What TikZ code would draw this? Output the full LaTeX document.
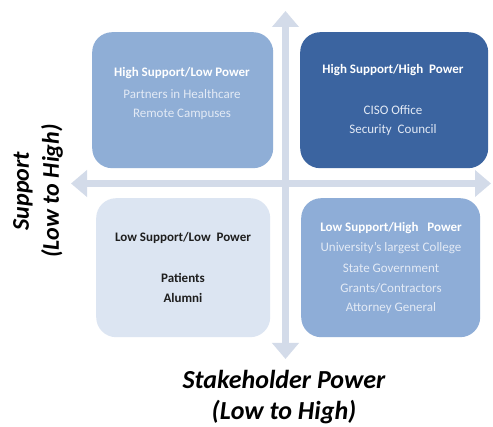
\documentclass[tikz,border=0pt]{standalone}
\usepackage{fontspec}
\setmainfont{Carlito}
\usetikzlibrary{arrows.meta}
\definecolor{axis}{HTML}{D3DBE9}
\definecolor{tlfill}{HTML}{8FAED6}
\definecolor{trfill}{HTML}{3B64A0}
\definecolor{blfill}{HTML}{DCE5F2}
\definecolor{brfill}{HTML}{8EADD7}
\definecolor{lighttext}{HTML}{E3EAF5}
\definecolor{darktext}{HTML}{1E1E1E}
\tikzset{
  quad/.style={rounded corners=20pt, inner sep=0pt, anchor=north west},
  axisarrow/.style={draw=axis, line width=7pt,
    {Triangle[width=26pt,length=16pt]}-{Triangle[width=26pt,length=16pt]}},
  txt/.style={font=\fontsize{13}{15}\selectfont, inner sep=0pt},
  ttl/.style={txt, font=\fontsize{13}{15}\selectfont\bfseries},
  axlabel/.style={font=\bfseries\itshape, align=center, inner sep=0pt}
}
\begin{document}
\begin{tikzpicture}[x=1pt,y=-1pt]
\useasboundingbox[fill=white] (0,0) rectangle (493,427);
% axes
\coordinate (vt) at (285.5,11);
\coordinate (vb) at (285.5,359);
\coordinate (hl) at (71,183.5);
\coordinate (hr) at (491,183.5);
\draw[axisarrow] (vt) -- (vb);
\draw[axisarrow] (hl) -- (hr);
% quadrants
\node[quad, fill=tlfill, minimum width=181pt, minimum height=136pt] (tl) at (92,32) {};
\node[quad, fill=trfill, minimum width=188pt, minimum height=136pt] (tr) at (300,32) {};
\node[quad, fill=blfill, minimum width=174pt, minimum height=139pt] (bl) at (96,198) {};
\node[quad, fill=brfill, minimum width=179pt, minimum height=139pt] (br) at (301,198) {};
% texts TL
\node[ttl, text=white] (tl1) at (182,73) {High Support/Low Power};
\node[txt, text=lighttext] (tl2) at (182,94) {Partners in Healthcare};
\node[txt, text=lighttext] (tl3) at (182,114) {Remote Campuses};
% texts TR
\node[ttl, text=white] (tr1) at (393,70) {High Support/High \ Power};
\node[txt, text=lighttext] (tr2) at (393,110) {CISO Office};
\node[txt, text=lighttext] (tr3) at (393,130) {Security \ Council};
% texts BL
\node[ttl, text=darktext] (bl1) at (183,238) {Low Support/Low \ Power};
\node[ttl, text=darktext] (bl2) at (183,278) {Patients};
\node[ttl, text=darktext] (bl3) at (183,298) {Alumni};
% texts BR
\node[ttl, text=white] (br1) at (391,228) {Low Support/High \ \ Power};
\node[txt, text=lighttext] (br2) at (391,248) {University's largest College};
\node[txt, text=lighttext] (br3) at (391,268) {State Government};
\node[txt, text=lighttext] (br4) at (391,288) {Grants/Contractors};
\node[txt, text=lighttext] (br5) at (391,308) {Attorney General};
% axis labels
\node[axlabel, rotate=90, font=\fontsize{24}{30}\selectfont\bfseries\itshape] (ylab) at (38,191) {Support\\(Low to High)};
\node[axlabel, font=\fontsize{26}{31}\selectfont\bfseries\itshape] (xlab) at (284,397) {Stakeholder Power\\(Low to High)};
\end{tikzpicture}
\end{document}
